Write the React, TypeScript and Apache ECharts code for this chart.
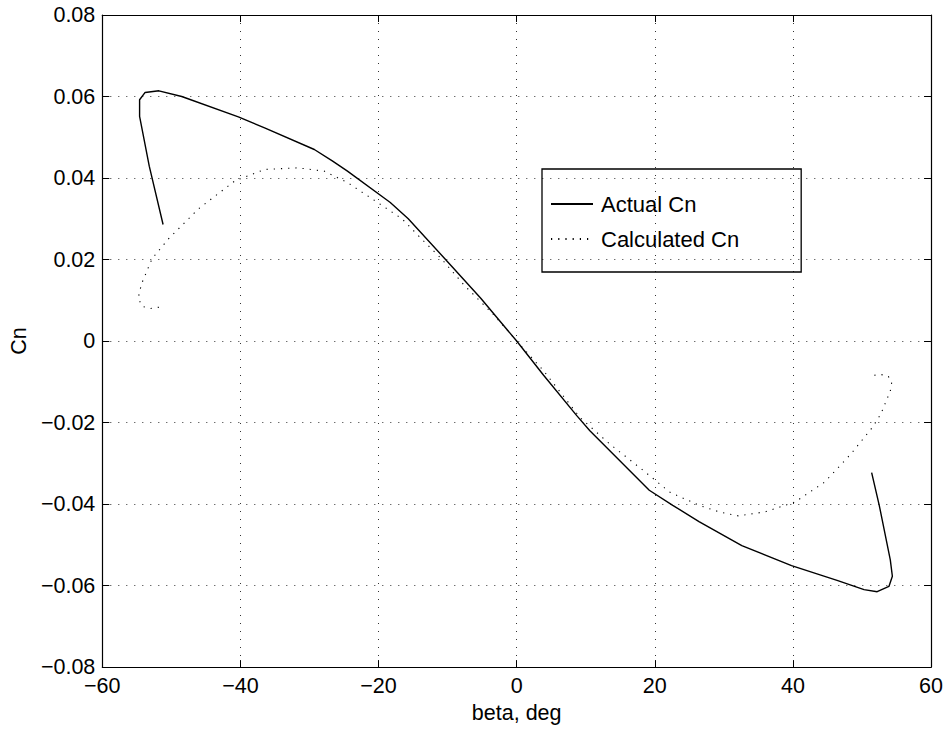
import React, { useEffect, useRef } from "react";
import * as echarts from "echarts";

const FONT = "'Liberation Sans', Arial, Helvetica, sans-serif";
const FS = 21.5;

const xTicks = { min: -60, max: 60, interval: 20 };
const yTicks = { min: -0.08, max: 0.08, interval: 0.02 };

const actualBeta = [
  -51.2, -53.2, -54.6, -54.6, -53.8, -51.8, -48.5, -40.3, -36.5, -29.3, -26.7, -24.5,
  -18.3, -15.7, -10.4, -5.2, 0, 3.9, 8.7, 10.6, 19.2, 22.6, 26.4, 32.6, 39.8, 46.5,
  50.3, 52.2, 53.9, 54.4, 54.1, 52.5, 51.4,
];
const actualCn = [
  0.0286, 0.0429, 0.0551, 0.0592, 0.061, 0.0614, 0.06, 0.055, 0.0523, 0.047, 0.0442, 0.0417,
  0.034, 0.03, 0.0202, 0.0105, 0, -0.0084, -0.0183, -0.022, -0.0366, -0.0403, -0.0443, -0.0502,
  -0.0551, -0.0588, -0.061, -0.0615, -0.0602, -0.0577, -0.0537, -0.0403, -0.0323,
];

const calcBeta = [
  -51.8, -53.0, -54.2, -54.8, -54.6, -54.3, -52.8, -50.4, -46.1, -40.8, -36.5, -31.7,
  -27.9, -24.5, -20.5, -16.6, -13.8, -10.9, -7.6, -3.3, 0, 3.9, 9.2, 13.5, 18.3, 22.1,
  26.4, 29.3, 32.1, 36.0, 40.3, 44.6, 48.4, 51.5, 52.7, 54.1, 54.3, 53.8, 52.7, 51.4,
];
const calcCn = [
  0.0083, 0.008, 0.0085, 0.0105, 0.0121, 0.0141, 0.0202, 0.0251, 0.0324, 0.0393, 0.0421, 0.0425,
  0.0417, 0.0389, 0.0344, 0.03, 0.0251, 0.0202, 0.0137, 0.0064, 0, -0.0073, -0.0188, -0.0253,
  -0.0317, -0.037, -0.0403, -0.0419, -0.0429, -0.0419, -0.0395, -0.0346, -0.0277, -0.0212,
  -0.018, -0.0123, -0.0102, -0.0086, -0.0082, -0.0085,
];

const seriesNames = ["Actual Cn", "Calculated Cn"];

const fmtNum = (v: number, digits: number) => {
  if (Math.abs(v) < 1e-9) return "0";
  const s = v.toFixed(digits);
  return s.replace("-", "\u2212");
};

export default function App() {
  const ref = useRef<HTMLDivElement>(null);
  useEffect(() => {
    if (!ref.current) return;
    const chart = echarts.init(ref.current, undefined, { renderer: "svg" });
    const gridLine = { show: true, lineStyle: { color: "#333", width: 1, type: [1, 7] as any } };
    const tick = { show: true, inside: true, length: 7, lineStyle: { color: "#000", width: 1 } };
    const axisLine = { show: true, onZero: false, lineStyle: { color: "#000", width: 1.2 } };
    const label = { color: "#000", fontSize: FS, fontFamily: FONT };
    chart.setOption({
      animation: false,
      backgroundColor: "#fff",
      grid: { left: 98, right: 12, top: 15, bottom: 57, containLabel: false },
      legend: {
        orient: "vertical",
        left: 542,
        top: 169,
        itemWidth: 42,
        itemHeight: 14,
        itemGap: 13,
        padding: [24, 62, 22, 8],
        borderColor: "#000",
        borderWidth: 1.3,
        itemStyle: { opacity: 0 },
        textStyle: { color: "#000", fontSize: 22, fontFamily: FONT, padding: [0, 0, 0, 3] },
        data: seriesNames,
      },
      xAxis: [
        {
          type: "value",
          position: "bottom",
          min: xTicks.min,
          max: xTicks.max,
          interval: xTicks.interval,
          axisLine,
          axisTick: tick,
          axisLabel: { ...label, margin: 8, formatter: (v: number) => fmtNum(v, 0) },
          splitLine: gridLine,
          name: "beta, deg",
          nameLocation: "middle",
          nameGap: 29,
          nameTextStyle: { ...label },
        },
        {
          type: "value",
          position: "top",
          min: xTicks.min,
          max: xTicks.max,
          interval: xTicks.interval,
          axisLine,
          axisTick: tick,
          axisLabel: { show: false },
          splitLine: { show: false },
        },
      ],
      yAxis: [
        {
          type: "value",
          position: "left",
          min: yTicks.min,
          max: yTicks.max,
          interval: yTicks.interval,
          axisLine,
          axisTick: tick,
          axisLabel: { ...label, margin: 7, formatter: (v: number) => fmtNum(v, 2) },
          splitLine: gridLine,
          name: "Cn",
          nameLocation: "middle",
          nameGap: 69,
          nameTextStyle: { ...label },
        },
        {
          type: "value",
          position: "right",
          min: yTicks.min,
          max: yTicks.max,
          interval: yTicks.interval,
          axisLine,
          axisTick: tick,
          axisLabel: { show: false },
          splitLine: { show: false },
        },
      ],
      series: [
        {
          name: seriesNames[0],
          type: "line",
          xAxisIndex: 0,
          yAxisIndex: 0,
          symbol: "none",
          showSymbol: false,
          data: actualBeta.map((b, i) => [b, actualCn[i]]),
          lineStyle: { color: "#000", width: 1.4, type: "solid" },
          itemStyle: { color: "#000" },
        },
        {
          name: seriesNames[1],
          type: "line",
          xAxisIndex: 0,
          yAxisIndex: 0,
          symbol: "none",
          showSymbol: false,
          data: calcBeta.map((b, i) => [b, calcCn[i]]),
          lineStyle: { color: "#000", width: 1.1, type: [1.2, 6] as any },
          itemStyle: { color: "#000" },
        },
      ],
    });
    return () => chart.dispose();
  }, []);
  return (
    <div
      ref={ref}
      style={{ position: "fixed", left: 0, top: 0, width: 946, height: 729, background: "#fff" }}
    />
  );
}
